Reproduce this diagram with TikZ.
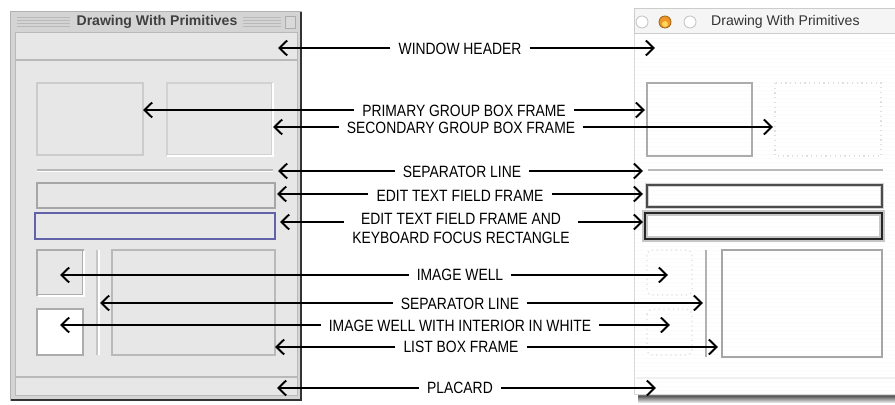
\documentclass[tikz,border=0pt]{standalone}
\usepackage{fontspec}
\setmainfont{Liberation Sans}
\newfontfamily\lblfont{Liberation Sans}[FakeStretch=0.85]
\usepackage{tikz}
\usetikzlibrary{arrows.meta}
\definecolor{platFill}{RGB}{231,231,231}
\definecolor{platFrame}{RGB}{212,212,212}
\definecolor{platBlue}{RGB}{98,98,168}
\definecolor{aquaOrange}{RGB}{238,150,40}
\definecolor{aquaYellow}{RGB}{255,215,90}

\begin{document}
\begin{tikzpicture}[
  x=0.02cm, y=-0.02cm,
  %% Callout label in the middle column
  lbl/.style={
    font=\lblfont\fontsize{9.3}{10.8}\selectfont,
    inner xsep=4.5pt,
    inner ysep=1pt,
    align=center
  },
  %% Black callout arrow with open chevron
  arr/.style={-{Straight Barb[length=4.4pt,width=8.5pt]}, line width=1.1pt, black},
  %% Platinum (left) parts
  platbox/.style={draw=gray!55, line width=0.6pt},
  platedge/.style={draw=white, line width=0.6pt},
  %% Aqua (right) parts
  aquabox/.style={draw=gray!65, line width=0.9pt},
  aquafaint/.style={draw=gray!25, dotted, line width=0.7pt},
  light/.style={draw=gray!45, line width=0.5pt, fill=white}
]
\useasboundingbox (0,0) rectangle (895,405);

%% ---- Left window (Platinum) ----
\draw[fill=platFrame, draw=gray!60] (10,11) rectangle (301,400);
\draw[black!80, line width=1.2pt] (301,12) -- (301,400) -- (11,400);
\foreach \yy in {17,20,23,26} {
  \draw[gray!55, line width=0.5pt] (17,\yy) -- (70,\yy);
  \draw[gray!55, line width=0.5pt] (243,\yy) -- (281,\yy);
}
\draw[fill=gray!30, draw=gray!65] (285,16) rectangle (295,28);
\node[font=\bfseries\fontsize{8}{9}\selectfont, text=black!75] (ltitle) at (157,22)
  {Drawing With Primitives};
\draw[fill=platFill, draw=gray!55] (15,32) rectangle (297,395);
\draw[platbox, line width=1pt] (15,60) -- (297,60);
\draw[platbox, line width=0.9pt] (15,377) -- (297,377);

\draw[platbox, draw=gray!40] (37,83) rectangle (143,155);
\draw[platbox, draw=gray!35] (167,83) rectangle (272,155);
\draw[platedge] (273,83) -- (273,156) -- (167,156);
\draw[platbox] (37,170) -- (273,170);
\draw[platedge] (37,171.5) -- (273,171.5);
\draw[platbox, draw=gray!70, line width=1pt] (37,183) rectangle (275,208);
\draw[draw=platBlue, line width=1.2pt] (35,213) rectangle (275,239);
\draw[platbox, draw=gray!65, line width=0.8pt] (37,250) rectangle (83,295);
\draw[platedge] (84,251) -- (84,296) -- (38,296);
\draw[platbox, draw=gray!45] (97,250) -- (97,355);
\draw[platedge] (99,250) -- (99,355);
\draw[platbox, draw=gray!65, fill=white, line width=0.8pt] (37,309) rectangle (83,355);
\draw[platbox, line width=0.8pt] (112,250) rectangle (275,355);

%% ---- Right window (Aqua) ----
\shade[top color=gray!25, bottom color=gray!25, middle color=black!65]
  (638,390) rectangle (895,402);
\draw[fill=white, draw=gray!30] (634,8) rectangle (896,394);
\foreach \yy in {38,42,...,390}
  \draw[gray!3, line width=0.4pt] (635,\yy) -- (895,\yy);
\draw[fill=gray!8, draw=gray!40] (634,8) rectangle (896,33);
\draw[light] (642,22) circle (6);
\draw[fill=aquaOrange, draw=aquaOrange!70!black, line width=0.5pt] (665,22) circle (6);
\fill[aquaYellow] (665,24) circle (3);
\draw[light] (690,22) circle (6);
\node[font=\fontsize{8}{9}\selectfont, text=black!80, anchor=west] (rtitle) at (705,22)
  {Drawing With Primitives};

\draw[aquabox] (647,83) rectangle (752,156);
\draw[aquafaint] (775,83) rectangle (881,156);
\draw[aquabox, draw=gray!55] (648,170) -- (883,170);
\draw[draw=gray!35, line width=2.2pt] (647,185) rectangle (882,207);
\draw[draw=black!70, line width=1pt] (647,185) rectangle (882,207);
\draw[draw=gray!45, line width=3pt] (645,213) rectangle (882,239);
\draw[draw=black!85, line width=1.4pt] (645,213) rectangle (882,239);
\draw[aquafaint, rounded corners=3pt] (647,250) rectangle (692,295);
\draw[aquafaint, rounded corners=3pt] (647,309) rectangle (692,355);
\draw[aquabox, draw=gray!60] (706,250) -- (706,357);
\draw[aquabox, draw=gray!70, line width=1.2pt] (722,250) rectangle (882,357);
\draw[gray!12, line width=0.6pt] (636,378) -- (895,378);

%% ---- Labels ----
\node[lbl] (hdr)   at (460,49)  {WINDOW HEADER};
\node[lbl] (pri)   at (464,111) {PRIMARY GROUP BOX FRAME};
\node[lbl] (sec)   at (461,128) {SECONDARY GROUP BOX FRAME};
\node[lbl] (sep)   at (462,172) {SEPARATOR LINE};
\node[lbl] (edit)  at (460,196) {EDIT TEXT FIELD FRAME};
\node[lbl] (focus) at (461,228) {EDIT TEXT FIELD FRAME AND\\KEYBOARD FOCUS RECTANGLE};
\node[lbl] (well)  at (460,275) {IMAGE WELL};
\node[lbl] (vsep)  at (460,304) {SEPARATOR LINE};
\node[lbl] (white) at (460,326) {IMAGE WELL WITH INTERIOR IN WHITE};
\node[lbl] (list)  at (461,347) {LIST BOX FRAME};
\node[lbl] (plac)  at (460,388) {PLACARD};

%% ---- Arrow targets ----
\coordinate (hdrL)   at (278,48);  \coordinate (hdrR)   at (655,48);
\coordinate (priL)   at (143,110); \coordinate (priR)   at (645,110);
\coordinate (secL)   at (273,127); \coordinate (secR)   at (773,127);
\coordinate (sepL)   at (278,171); \coordinate (sepR)   at (643,171);
\coordinate (editL)  at (277,194); \coordinate (editR)  at (643,194);
\coordinate (focusL) at (280,222); \coordinate (focusR) at (643,222);
\coordinate (wellL)  at (60,275);  \coordinate (wellR)  at (668,275);
\coordinate (vsepL)  at (100,303); \coordinate (vsepR)  at (703,303);
\coordinate (whiteL) at (60,325);  \coordinate (whiteR) at (670,325);
\coordinate (listL)  at (275,347); \coordinate (listR)  at (718,347);
\coordinate (placL)  at (277,388); \coordinate (placR)  at (656,388);

%% ---- Callout arrows ----
\foreach \n in {hdr,pri,sec,sep,edit,focus,well,vsep,white,list,plac} {
  \draw[arr] (\n.west |- \n L) -- (\n L);
  \draw[arr] (\n.east |- \n R) -- (\n R);
}

\end{tikzpicture}
\end{document}
